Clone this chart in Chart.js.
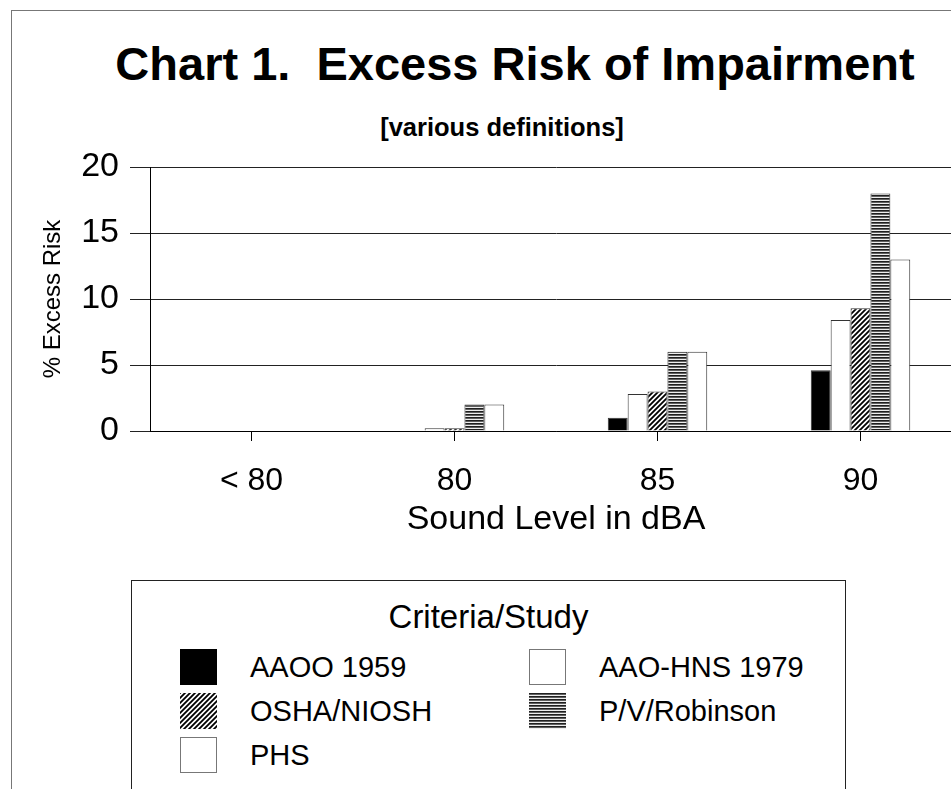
<!DOCTYPE html>
<html>
<head>
<meta charset="utf-8">
<script src="https://cdn.jsdelivr.net/npm/chart.js@4.4.0/dist/chart.umd.min.js"></script>
<style>
  body { margin:0; width:951px; height:789px; overflow:hidden; background:#fff; position:relative;
         font-family:"Liberation Sans", Arial, sans-serif; color:#000; }
  #cadre { position:absolute; left:11px; top:10px; width:1100px; height:1000px; border:1px solid #777; }
  #titre { position:absolute; left:0; top:40px; width:1030px; text-align:center; white-space:pre;
           font-weight:bold; font-size:47px; line-height:47px; }
  #soustitre { position:absolute; left:0; top:114px; width:1004px; text-align:center;
               font-weight:bold; font-size:25.5px; line-height:26px; }
  #graphe { position:absolute; left:0; top:0; }
  #legende { position:absolute; left:131px; top:580px; width:713px; height:300px; border:1px solid #222; }
  #legende .tl { position:absolute; left:0; top:18px; width:100%; text-align:center; font-size:33px; line-height:36px; }
  .item { position:absolute; height:36px; }
  .item canvas { position:absolute; left:0; top:0; }
  .item span { position:absolute; left:70px; top:0; line-height:36px; font-size:29px; white-space:nowrap; }
</style>
</head>
<body>
<div id="cadre"></div>
<div id="titre">Chart 1.  Excess Risk of Impairment</div>
<div id="soustitre">[various definitions]</div>
<canvas id="graphe" width="1000" height="560"></canvas>
<div id="legende"><div class="tl">Criteria/Study</div></div>

<script>
// Données
const categories = ['< 80', '80', '85', '90'];
const aaoo1959   = [0, 0,   1.0, 4.6];
const aaoHns1979 = [0, 0.2, 2.8, 8.4];
const oshaNiosh  = [0, 0.2, 3.0, 9.3];
const pvRobinson = [0, 2.0, 6.0, 18.0];
const phs        = [0, 2.0, 6.0, 13.0];
const yTicks = [0, 5, 10, 15, 20];

const ctx = document.getElementById('graphe').getContext('2d');

// motifs de remplissage (hachures, rayures)
function motifHachures() {
    const c = document.createElement('canvas');
    c.width = 5; c.height = 5;
    const g = c.getContext('2d');
    g.fillStyle = '#fff';
    g.fillRect(0, 0, 5, 5);
    g.strokeStyle = '#000';
    g.lineWidth = 1.8;
    g.beginPath();
    g.moveTo(-1, 6); g.lineTo(6, -1);
    g.moveTo(-4, 4); g.lineTo(4, -4);
    g.moveTo(1, 9); g.lineTo(9, 1);
    g.stroke();
    return ctx.createPattern(c, 'repeat');
}

function motifRayures() {
    const c = document.createElement('canvas');
    c.width = 4; c.height = 3;
    const g = c.getContext('2d');
    g.fillStyle = '#202020'; g.fillRect(0, 0, 4, 1);
    g.fillStyle = '#606060'; g.fillRect(0, 1, 4, 1);
    g.fillStyle = '#eeeeee'; g.fillRect(0, 2, 4, 1);
    return ctx.createPattern(c, 'repeat');
}

const series = [
    { label: 'AAOO 1959',     data: aaoo1959,   fond: '#000' },
    { label: 'AAO-HNS 1979',  data: aaoHns1979, fond: '#fff' },
    { label: 'OSHA/NIOSH',    data: oshaNiosh,  fond: motifHachures() },
    { label: 'P/V/Robinson',  data: pvRobinson, fond: motifRayures() },
    { label: 'PHS',           data: phs,        fond: '#fff' }
];

const data = {
    labels: categories,
    datasets: series.map(s => ({
        label: s.label,
        data: s.data,
        backgroundColor: s.fond,
        borderColor: '#333',
        borderWidth: 1,
        barPercentage: 1,
        categoryPercentage: 0.49
    }))
};

const config = {
    type: 'bar',
    data: data,
    options: {
        responsive: false,
        animation: false,
        layout: { padding: { top: 167, right: 38, left: 0, bottom: 0 } },
        plugins: {
            legend: { display: false },
            tooltip: { enabled: false }
        },
        scales: {
            x: {
                afterFit: (s) => { s.height = 129; },
                grid: { display: true, drawOnChartArea: false, drawTicks: true, tickLength: 10, offset: false, color: '#000' },
                border: { display: true, color: '#000', width: 1 },
                ticks: { color: '#000', padding: 21, font: { family: 'Liberation Sans', size: 32 } },
                title: { display: true, text: 'Sound Level in dBA', color: '#000',
                         font: { family: 'Liberation Sans', size: 34 }, padding: { top: 0, bottom: 20 } }
            },
            y: {
                min: 0,
                max: 20,
                afterFit: (s) => { s.width = 150; },
                afterBuildTicks: (s) => { s.ticks = yTicks.map(v => ({ value: v })); },
                grid: { color: '#222', lineWidth: 1, tickLength: 20, drawTicks: true },
                border: { display: true, color: '#000', width: 1 },
                ticks: { color: '#000', padding: 11, font: { family: 'Liberation Sans', size: 34 } },
                title: { display: true, text: '% Excess Risk', color: '#000',
                         font: { family: 'Liberation Sans', size: 24 }, padding: { top: 39, bottom: 0 } }
            }
        }
    }
};

const monGraphe = new Chart(ctx, config);

// Légende faite à la main (cadre + 2 colonnes)
const legende = document.getElementById('legende');
const colX = [48, 397];
const rowY = [68, 112, 156];
series.forEach((s, i) => {
    const item = document.createElement('div');
    item.className = 'item';
    item.style.left = colX[i % 2] + 'px';
    item.style.top = rowY[Math.floor(i / 2)] + 'px';
    const c = document.createElement('canvas');
    c.width = 37; c.height = 36;
    const g = c.getContext('2d');
    g.fillStyle = s.fond;
    g.fillRect(0, 0, 37, 36);
    if (s.fond === '#fff') {
        g.strokeStyle = '#777';
        g.lineWidth = 1;
        g.strokeRect(0.5, 0.5, 36, 35);
    }
    const t = document.createElement('span');
    t.textContent = s.label;
    item.appendChild(c);
    item.appendChild(t);
    legende.appendChild(item);
});
</script>
</body>
</html>
